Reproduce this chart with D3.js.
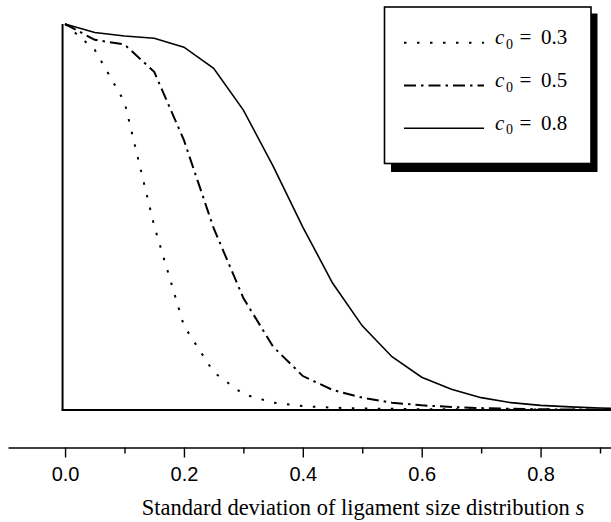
<!DOCTYPE html>
<html>
<head>
<meta charset="utf-8">
<script src="https://cdn.jsdelivr.net/npm/d3@7"></script>
<style>
  body { margin: 0; background: #fff; }
  svg { display: block; }
</style>
</head>
<body>
<svg id="chart" width="611" height="522"></svg>
<script>
// standard deviation s (x values)
const sValues = [0, 0.05, 0.1, 0.15, 0.2, 0.25, 0.3, 0.35, 0.4, 0.45, 0.5,
  0.55, 0.6, 0.65, 0.7, 0.75, 0.8, 0.85, 0.9, 0.95];

// normalised curves
const c03 = [1.0, 0.933, 0.798, 0.477, 0.218, 0.098, 0.041, 0.019, 0.010, 0.006,
  0.004, 0.003, 0.002, 0.002, 0.001, 0.001, 0.001, 0.001, 0.001, 0.001];
const c05 = [1.0, 0.959, 0.947, 0.876, 0.699, 0.471, 0.290, 0.164, 0.088, 0.052,
  0.032, 0.019, 0.012, 0.008, 0.005, 0.003, 0.002, 0.001, 0.001, 0.001];
const c08 = [1.0, 0.978, 0.969, 0.963, 0.940, 0.885, 0.777, 0.632, 0.474, 0.329,
  0.218, 0.138, 0.085, 0.054, 0.032, 0.019, 0.012, 0.008, 0.005, 0.003];

const seriesLabels = ["0.3", "0.5", "0.8"];
const majorTicks = [0, 0.2, 0.4, 0.6, 0.8];
const minorTicks = [0.1, 0.3, 0.5, 0.7, 0.9];
const axisTitle = "Standard deviation of ligament size distribution ";

const series = [
  { label: seriesLabels[0], values: c03, dash: "2.5,10.5" },
  { label: seriesLabels[1], values: c05, dash: "12,5,2.5,5" },
  { label: seriesLabels[2], values: c08, dash: null },
];

const svg = d3.select("#chart");

const x = d3.scaleLinear().domain([-0.096, 0.92]).range([8, 611.9]);
const y = d3.scaleLinear().domain([0, 1]).range([410, 24]);

// plot frame (left + bottom lines)
const frame = svg.append("g");
frame.append("line")
  .attr("x1", x(0) - 2.5).attr("x2", x(0) - 2.5)
  .attr("y1", y(1)).attr("y2", y(0))
  .attr("stroke", "#000").attr("stroke-width", 2);
frame.append("line")
  .attr("x1", x(0) - 3.5).attr("x2", 611)
  .attr("y1", y(0)).attr("y2", y(0))
  .attr("stroke", "#000").attr("stroke-width", 2);

const line = d3.line()
  .x((d, i) => x(sValues[i]))
  .y((d) => y(d));

svg.append("g")
  .selectAll("path.curve")
  .data(series)
  .enter()
  .append("path")
  .attr("class", "curve")
  .attr("d", (d) => line(d.values))
  .attr("fill", "none")
  .attr("stroke", "#000")
  .attr("stroke-width", (d) => (d.dash ? 2 : 1.6))
  .attr("stroke-dasharray", (d) => d.dash);

// bottom axis
const axisY = 447.5;
const xAxis = svg.append("g")
  .attr("transform", `translate(0,${axisY})`)
  .call(
    d3.axisBottom(x)
      .tickValues(majorTicks)
      .tickFormat(d3.format(".1f"))
      .tickSize(10)
      .tickSizeOuter(0)
      .tickPadding(9)
  );
xAxis.select(".domain").attr("stroke-width", 1.6);
xAxis.selectAll(".tick line").attr("stroke-width", 1.4);
xAxis.selectAll("text")
  .attr("fill", "#000")
  .style("font-family", "'Liberation Sans', Arial, sans-serif")
  .style("font-size", "20px");

svg.append("g")
  .attr("transform", `translate(0,${axisY})`)
  .call(d3.axisBottom(x).tickValues(minorTicks).tickFormat("").tickSize(6).tickSizeOuter(0))
  .call((g) => g.select(".domain").remove())
  .selectAll(".tick line").attr("stroke-width", 1.4);

const title = svg.append("text")
  .attr("x", 363)
  .attr("y", 515)
  .attr("text-anchor", "middle")
  .style("font-family", "'Liberation Serif', 'Times New Roman', serif")
  .style("font-size", "22.5px")
  .text(axisTitle);
title.append("tspan").style("font-style", "italic").text("s");

// legend with drop shadow
const legend = { x: 384.5, y: 7, w: 206.5, h: 156.5 };
svg.append("rect")
  .attr("x", legend.x + 6.5).attr("y", legend.y + 6.5)
  .attr("width", legend.w).attr("height", legend.h + 2)
  .attr("fill", "#000");
svg.append("rect")
  .attr("x", legend.x).attr("y", legend.y)
  .attr("width", legend.w).attr("height", legend.h)
  .attr("fill", "#fff").attr("stroke", "#000").attr("stroke-width", 1.6);

const rows = svg.append("g")
  .selectAll("g.row")
  .data(series)
  .enter()
  .append("g")
  .attr("class", "row")
  .attr("transform", (d, i) => `translate(0,${42.7 + i * 42.8})`);

rows.append("line")
  .attr("x1", 404).attr("x2", 484)
  .attr("stroke", "#000")
  .attr("stroke-width", (d) => (d.dash ? 2 : 1.6))
  .attr("stroke-dasharray", (d) => d.dash);

const lt = rows.append("text")
  .attr("y", 1.5)
  .style("font-family", "'Liberation Serif', 'Times New Roman', serif")
  .style("font-size", "21px");
lt.append("tspan").attr("x", 495).style("font-style", "italic").text("c");
lt.append("tspan").attr("x", 506).attr("dy", 4.5).style("font-size", "14px").text("0");
lt.append("tspan").attr("x", 519.5).attr("dy", -4.5).text("=");
lt.append("tspan").attr("x", 541).text((d) => d.label);
</script>
</body>
</html>
